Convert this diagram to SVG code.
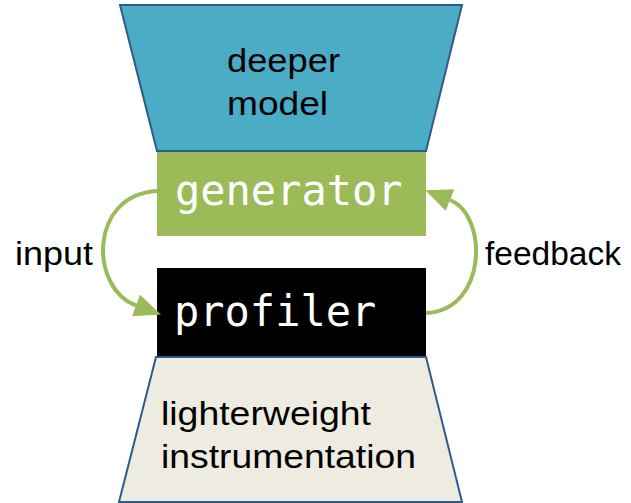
<svg xmlns="http://www.w3.org/2000/svg" width="631" height="503" viewBox="0 0 631 503">
<style>
.trap{stroke:#2f5b8c;stroke-width:2;stroke-linejoin:miter}
.sans{font-family:"Liberation Sans",Arial,sans-serif;font-size:33px;fill:#000}
.mono{font-family:"DejaVu Sans Mono","Liberation Mono",monospace;font-size:42px;fill:#fff}
.conn{fill:none;stroke:#9bbb59;stroke-width:4}
</style>
<defs>
<marker id="ah" markerUnits="userSpaceOnUse" markerWidth="30" markerHeight="30" viewBox="0 -13 24 26" refX="0" refY="0" orient="auto">
<path d="M0,-10 L23,0 L0,10 Z" fill="#9bbb59"/>
</marker>
</defs>
<rect width="631" height="503" fill="#fff"/>
<g id="generator">
<rect x="157" y="151" width="269" height="85" fill="#9bbb59"/>
<text class="mono" x="175" y="205">generator</text>
</g>
<g id="deeper-model">
<polygon class="trap" points="120,5 462,5 426,151 157,151" fill="#4bacc6"/>
<text class="sans" x="227" y="72" textLength="113" lengthAdjust="spacingAndGlyphs">deeper</text>
<text class="sans" x="227" y="115" textLength="101" lengthAdjust="spacingAndGlyphs">model</text>
</g>
<g id="profiler">
<rect x="157" y="268" width="269" height="88" fill="#000"/>
<text class="mono" x="174" y="326">profiler</text>
</g>
<g id="lighterweight-instrumentation">
<polygon class="trap" points="156,357 426,357 462,502 119,502" fill="#eeece1"/>
<text class="sans" x="161" y="425" textLength="210" lengthAdjust="spacingAndGlyphs">lighterweight</text>
<text class="sans" x="161" y="468" textLength="255" lengthAdjust="spacingAndGlyphs">instrumentation</text>
</g>
<g id="connectors">
<path class="conn" d="M157,191 C88,195 90,289 136,305.5" marker-end="url(#ah)"/>
<path class="conn" d="M426,313 C488,310 488,215 450,200" marker-end="url(#ah)"/>
<text class="sans" x="15" y="265" textLength="78" lengthAdjust="spacingAndGlyphs">input</text>
<text class="sans" x="485" y="265" textLength="136" lengthAdjust="spacingAndGlyphs">feedback</text>
</g>
</svg>
